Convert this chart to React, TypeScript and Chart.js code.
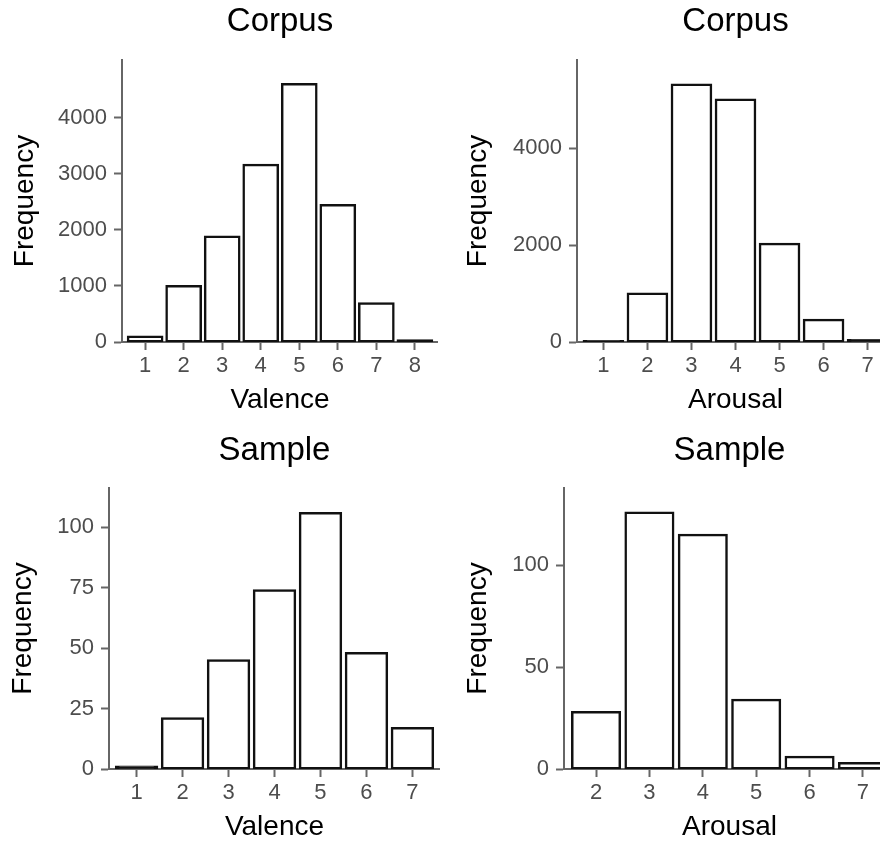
import React, { useEffect, useRef } from "react";
import { Chart, registerables } from "chart.js";

Chart.register(...registerables);

// ---- Data ----
const corpusValenceCategories = [1, 2, 3, 4, 5, 6, 7, 8];
const corpusValenceCounts = [100, 1000, 1880, 3160, 4600, 2440, 690, 30];
const corpusValenceTicks = [0, 1000, 2000, 3000, 4000];

const corpusArousalCategories = [1, 2, 3, 4, 5, 6, 7];
const corpusArousalCounts = [20, 1000, 5320, 5010, 2030, 460, 40];
const corpusArousalTicks = [0, 2000, 4000];

const sampleValenceCategories = [1, 2, 3, 4, 5, 6, 7];
const sampleValenceCounts = [1, 21, 45, 74, 106, 48, 17];
const sampleValenceTicks = [0, 25, 50, 75, 100];

const sampleArousalCategories = [2, 3, 4, 5, 6, 7];
const sampleArousalCounts = [28, 126, 115, 34, 6, 3];
const sampleArousalTicks = [0, 50, 100];

const FONT = "'Liberation Sans', Arial, Helvetica, sans-serif";
const AXIS_COLOR = "#666666";
const TICK_TEXT = "#4d4d4d";
const BAR_EDGE = "#111111";

type PanelProps = {
  title: string;
  xTitle: string;
  categories: number[];
  values: number[];
  yTicks: number[];
  yMax: number;
  left: number;
  top: number;
  width: number;
  height: number;
  yAxisWidth: number;
  yTitlePad: number;
  titlePadTop: number;
  titlePadBottom: number;
  bottomPad: number;
};

function Panel(p: PanelProps) {
  const ref = useRef<HTMLCanvasElement | null>(null);
  useEffect(() => {
    if (!ref.current) return;
    const chart = new Chart(ref.current, {
      type: "bar",
      data: {
        datasets: [
          {
            data: p.values.map((v, i) => ({ x: p.categories[i], y: v })),
            // very short bars render as a solid outline (border fills them)
            backgroundColor: (ctx: any) => {
              const ys = ctx.chart.scales && ctx.chart.scales.y;
              const val = ctx.parsed ? ctx.parsed.y : undefined;
              if (!ys || val === undefined) return "#ffffff";
              const h = ys.getPixelForValue(0) - ys.getPixelForValue(val);
              return h < 4 ? BAR_EDGE : "#ffffff";
            },
            borderColor: BAR_EDGE,
            borderWidth: 2.5,
            borderSkipped: false,
            inflateAmount: 1,
            barPercentage: 0.9,
            categoryPercentage: 1.0,
          },
        ],
      },
      options: {
        responsive: false,
        animation: false,
        layout: { padding: { left: 0, right: 0, top: 0, bottom: p.bottomPad } },
        plugins: {
          legend: { display: false },
          tooltip: { enabled: false },
          title: {
            display: true,
            text: p.title,
            fullSize: false,
            color: "#000000",
            font: { family: FONT, size: 33, weight: "normal", lineHeight: 1.2 },
            padding: { top: p.titlePadTop, bottom: p.titlePadBottom },
          },
        },
        scales: {
          x: {
            type: "linear",
            offset: false,
            min: p.categories[0] - 0.6,
            max: p.categories[p.categories.length - 1] + 0.6,
            afterBuildTicks: (axis: any) => {
              axis.ticks = p.categories.map((v) => ({ value: v }));
            },
            afterFit: (scale: any) => {
              scale.height = 75;
            },
            ticks: {
              callback: (v: any) => String(v),
              color: TICK_TEXT,
              font: { family: FONT, size: 22, lineHeight: 1.2 },
              padding: 3,
              maxRotation: 0,
              autoSkip: false,
            },
            grid: {
              display: true,
              offset: false,
              drawOnChartArea: false,
              drawTicks: true,
              tickLength: 8,
              tickWidth: 2,
              tickColor: AXIS_COLOR,
            },
            border: { display: true, color: AXIS_COLOR, width: 2 },
            title: {
              display: true,
              text: p.xTitle,
              color: "#000000",
              font: { family: FONT, size: 28, lineHeight: 1.2 },
              padding: { top: 0, bottom: 0 },
            },
          },
          y: {
            type: "linear",
            min: 0,
            max: p.yMax,
            afterBuildTicks: (axis: any) => {
              axis.ticks = p.yTicks.map((v) => ({ value: v }));
            },
            afterFit: (scale: any) => {
              scale.width = p.yAxisWidth;
            },
            ticks: {
              callback: (v: any) => String(v),
              color: TICK_TEXT,
              font: { family: FONT, size: 22, lineHeight: 1.2 },
              padding: 7,
            },
            grid: {
              display: true,
              drawOnChartArea: false,
              drawTicks: true,
              tickLength: 8,
              tickWidth: 2,
              tickColor: AXIS_COLOR,
            },
            border: { display: true, color: AXIS_COLOR, width: 2 },
            title: {
              display: true,
              text: "Frequency",
              color: "#000000",
              font: { family: FONT, size: 28, lineHeight: 1.2 },
              padding: { top: p.yTitlePad, bottom: 0 },
            },
          },
        },
      } as any,
    });
    return () => chart.destroy();
  }, []);
  return (
    <div
      style={{
        position: "absolute",
        left: p.left,
        top: p.top,
        width: p.width,
        height: p.height,
      }}
    >
      <canvas ref={ref} width={p.width} height={p.height} style={{ display: "block" }} />
    </div>
  );
}

export default function App() {
  return (
    <div
      style={{
        position: "absolute",
        left: 0,
        top: 0,
        width: 880,
        height: 841,
        overflow: "hidden",
        background: "#ffffff",
      }}
    >
      <Panel
        title="Corpus"
        xTitle="Valence"
        categories={corpusValenceCategories}
        values={corpusValenceCounts}
        yTicks={corpusValenceTicks}
        yMax={5027}
        left={0}
        top={0}
        width={438}
        height={420}
        yAxisWidth={122}
        yTitlePad={8.5}
        titlePadTop={2.1}
        titlePadBottom={18.3}
        bottomPad={3}
      />
      <Panel
        title="Corpus"
        xTitle="Arousal"
        categories={corpusArousalCategories}
        values={corpusArousalCounts}
        yTicks={corpusArousalTicks}
        yMax={5826}
        left={440}
        top={0}
        width={454}
        height={420}
        yAxisWidth={137}
        yTitlePad={21.5}
        titlePadTop={2.1}
        titlePadBottom={18.3}
        bottomPad={3}
      />
      <Panel
        title="Sample"
        xTitle="Valence"
        categories={sampleValenceCategories}
        values={sampleValenceCounts}
        yTicks={sampleValenceTicks}
        yMax={116.3}
        left={0}
        top={428}
        width={440}
        height={416}
        yAxisWidth={109}
        yTitlePad={6.8}
        titlePadTop={2.8}
        titlePadBottom={17.6}
        bottomPad={0}
      />
      <Panel
        title="Sample"
        xTitle="Arousal"
        categories={sampleArousalCategories}
        values={sampleArousalCounts}
        yTicks={sampleArousalTicks}
        yMax={138}
        left={440}
        top={428}
        width={455}
        height={416}
        yAxisWidth={124}
        yTitlePad={21.8}
        titlePadTop={2.8}
        titlePadBottom={17.6}
        bottomPad={0}
      />
    </div>
  );
}
